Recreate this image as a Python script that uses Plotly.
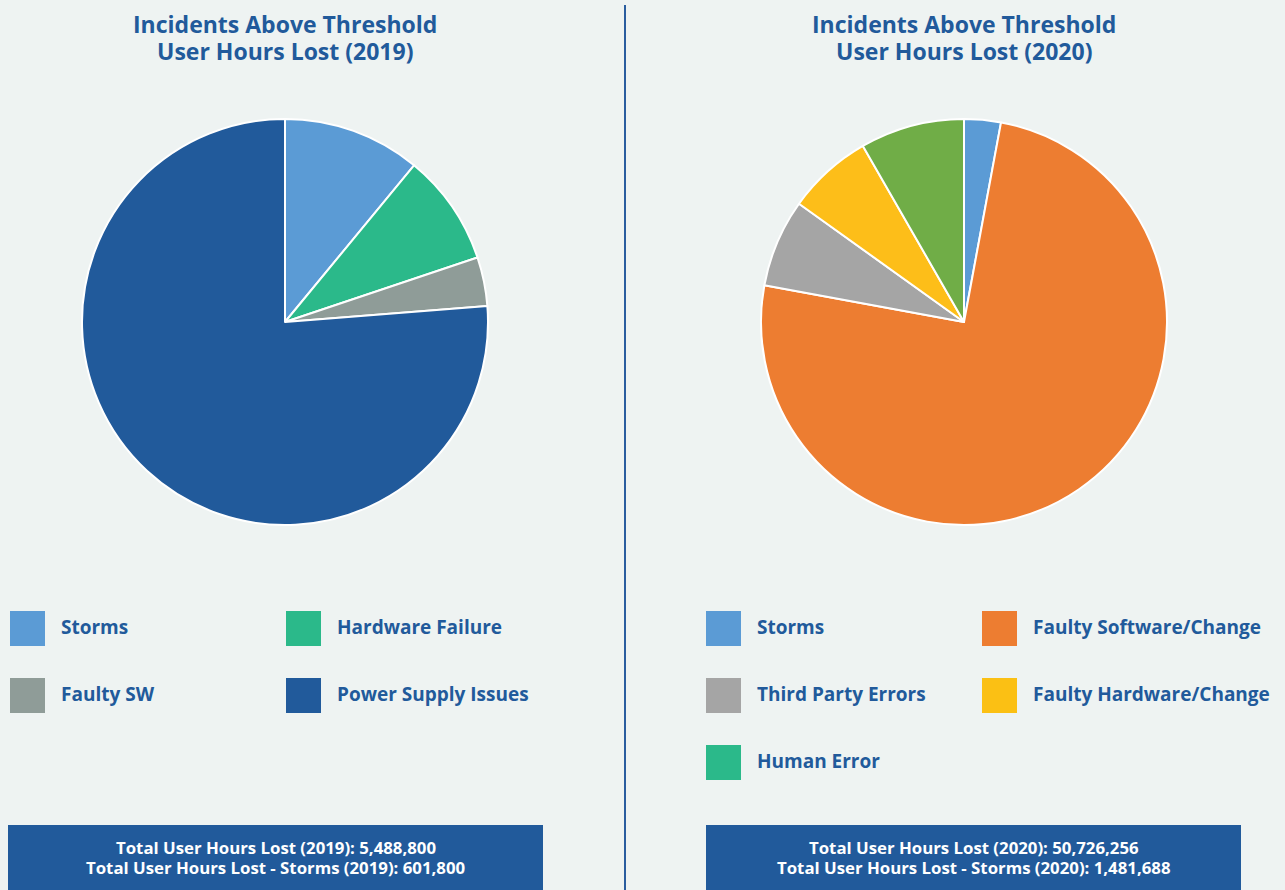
import plotly.graph_objects as go

W, H = 1285, 890

# ---- data ----
labels_2019 = ["Storms", "Hardware Failure", "Faulty SW", "Power Supply Issues"]
values_2019 = [601800, 488000, 214000, 4185000]
pie_colors_2019 = ["#5b9bd5", "#2bb98a", "#8f9c98", "#215a9b"]
legend_colors_2019 = ["#5b9bd5", "#2bb98a", "#8f9c98", "#215a9b"]

labels_2020 = ["Storms", "Faulty Software/Change", "Third Party Errors",
               "Faulty Hardware/Change", "Human Error"]
values_2020 = [1481688, 38034568, 3550000, 3450000, 4210000]
pie_colors_2020 = ["#5b9bd5", "#ed7d31", "#a5a5a5", "#fdbe19", "#70ad47"]
legend_colors_2020 = ["#5b9bd5", "#ed7d31", "#a5a5a5", "#fbc014", "#2bb98a"]

titles = [("Incidents Above Threshold", "User Hours Lost (2019)"),
          ("Incidents Above Threshold", "User Hours Lost (2020)")]
totals = [("Total User Hours Lost (2019): 5,488,800",
           "Total User Hours Lost - Storms (2019): 601,800"),
          ("Total User Hours Lost (2020): 50,726,256",
           "Total User Hours Lost - Storms (2020): 1,481,688")]

BG = "#eef3f2"
BLUE = "#215a9b"
FONT = "Open Sans"


def px(x):
    return x / W


def py(y):
    return 1 - y / H


fig = go.Figure()

panels = [
    dict(cx=285, labels=labels_2019, values=values_2019, colors=pie_colors_2019,
         lcolors=legend_colors_2019, left=10, box=8),
    dict(cx=964, labels=labels_2020, values=values_2020, colors=pie_colors_2020,
         lcolors=legend_colors_2020, left=706, box=706),
]
R, CY = 203, 322

shapes = []
annotations = []

for i, p in enumerate(panels):
    fig.add_trace(go.Pie(
        labels=p["labels"], values=p["values"],
        marker=dict(colors=p["colors"], line=dict(color="white", width=2)),
        sort=False, direction="clockwise", rotation=0,
        textinfo="none", showlegend=False,
        domain=dict(x=[px(p["cx"] - R), px(p["cx"] + R)],
                    y=[py(CY + R), py(CY - R)]),
    ))
    # titles
    for line, yc in zip(titles[i], [24, 51]):
        annotations.append(dict(
            x=px(p["cx"]), y=py(yc), xref="paper", yref="paper",
            text=line, showarrow=False, xanchor="center", yanchor="middle",
            font=dict(family=FONT, size=23, color=BLUE, weight="bold")))
    # custom legend: two columns, row-wise
    for k, (lab, col) in enumerate(zip(p["labels"], p["lcolors"])):
        r, c = divmod(k, 2)
        x0 = p["left"] + c * 276
        y0 = 611 + r * 67
        shapes.append(dict(type="rect", xref="paper", yref="paper",
                           x0=px(x0), x1=px(x0 + 35), y0=py(y0 + 35), y1=py(y0),
                           fillcolor=col, line=dict(width=0)))
        annotations.append(dict(
            x=px(x0 + 49), y=py(y0 + 15.5), xref="paper", yref="paper",
            text=lab, showarrow=False, xanchor="left", yanchor="middle",
            font=dict(family=FONT, size=19, color=BLUE, weight="bold")))
    # bottom total box
    bx0 = p["box"]
    shapes.append(dict(type="rect", xref="paper", yref="paper",
                       x0=px(bx0), x1=px(bx0 + 535), y0=py(890), y1=py(825),
                       fillcolor=BLUE, line=dict(width=0), layer="below"))
    for line, yc in zip(totals[i], [847, 867]):
        annotations.append(dict(
            x=px(bx0 + 267.5), y=py(yc), xref="paper", yref="paper",
            text=line, showarrow=False, xanchor="center", yanchor="middle",
            font=dict(family=FONT, size=16.8, color="white", weight="bold")))

# divider
shapes.append(dict(type="line", xref="paper", yref="paper",
                   x0=px(625), x1=px(625), y0=py(5), y1=py(890),
                   line=dict(color="#2a5d9f", width=2)))

fig.update_layout(
    width=W, height=H,
    margin=dict(l=0, r=0, t=0, b=0),
    paper_bgcolor=BG, plot_bgcolor=BG,
    shapes=shapes, annotations=annotations,
    showlegend=False,
)

fig.write_html("out.html")
